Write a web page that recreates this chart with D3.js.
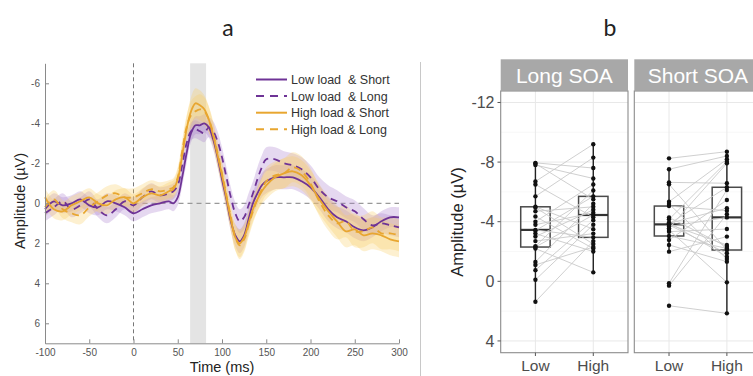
<!DOCTYPE html>
<html><head><meta charset="utf-8">
<script src="https://cdn.jsdelivr.net/npm/d3@7"></script>
<style>
body{margin:0;background:#fff}
svg{display:block}
text{font-family:"Liberation Sans",Arial,sans-serif}
</style>
</head><body>
<svg id="c" width="753" height="376"></svg>
<script>
// ---------- Panel a data ----------
const times = [-100,-90,-80,-70,-60,-50,-40,-30,-20,-10,0,10,20,30,40,
  45,50,55,60,65,70,75,80,85,90,95,100,105,110,115,120,125,130,135,140,145,150,
  160,170,180,190,200,210,220,230,240,250,260,270,280,290,300];
const lowShort = [0.3,-0.1,0.1,0.0,-0.2,0.1,0.2,-0.1,0.0,0.2,0.5,0.3,0.1,0.0,-0.1,
  0.0,-0.3,-1.3,-2.5,-3.5,-3.9,-3.9,-4.0,-3.8,-3.2,-2.3,-1.2,-0.2,0.9,1.6,1.9,1.6,0.8,0.0,-0.5,-0.9,-1.1,
  -1.3,-1.3,-1.3,-1.1,-0.8,-0.3,0.3,0.7,0.9,1.2,1.35,1.2,0.9,0.7,0.7];
const lowLong = [0.5,0.2,-0.1,0.3,0.1,-0.2,0.3,0.6,0.3,-0.1,0.1,-0.3,-0.6,-0.4,-0.5,
  -0.6,-0.9,-1.9,-3.0,-3.6,-3.7,-3.6,-3.5,-3.8,-3.6,-3.1,-2.3,-1.3,-0.3,0.5,0.9,0.7,0.1,-0.5,-1.2,-1.8,-2.2,
  -2.2,-2.0,-1.9,-1.7,-1.3,-0.7,-0.3,-0.1,0.2,0.4,0.8,1.1,1.0,1.1,1.2];
const highShort = [-0.3,0.3,0.4,0.1,-0.1,-0.3,0.0,0.1,-0.2,-0.3,0.0,-0.3,-0.5,-0.4,-0.6,
  -0.7,-1.2,-2.4,-3.7,-4.6,-5.0,-4.9,-4.7,-4.2,-3.4,-2.4,-1.4,-0.3,0.8,1.7,2.0,1.7,1.0,0.3,-0.2,-0.6,-0.9,
  -1.3,-1.5,-1.6,-1.4,-0.9,-0.2,0.4,0.9,1.4,1.3,1.6,1.5,1.6,1.8,1.9];
const highLong = [0.2,-0.2,0.3,0.5,0.6,0.2,-0.1,-0.4,-0.5,-0.3,-0.3,-0.5,-0.7,-0.6,-0.7,
  -0.8,-1.3,-2.6,-3.8,-4.4,-4.6,-4.7,-4.6,-4.2,-3.5,-2.5,-1.5,-0.4,0.7,1.7,2.1,1.8,1.1,0.4,-0.2,-0.7,-1.1,
  -1.4,-1.5,-1.8,-1.6,-1.0,-0.1,0.6,1.0,0.9,1.4,1.4,1.2,1.5,1.5,1.6];
const seLow = [0.4,0.4,0.4,0.4,0.4,0.4,0.4,0.4,0.4,0.4,0.4,0.4,0.4,0.4,0.4,
  0.4,0.4,0.45,0.5,0.45,0.45,0.45,0.45,0.5,0.5,0.5,0.5,0.5,0.5,0.55,0.6,0.6,0.6,0.6,0.6,0.6,0.6,
  0.6,0.6,0.6,0.6,0.6,0.6,0.6,0.55,0.55,0.55,0.55,0.5,0.5,0.5,0.5];
const seHigh = [0.45,0.45,0.45,0.45,0.45,0.45,0.45,0.45,0.45,0.45,0.45,0.45,0.45,0.45,0.45,
  0.45,0.5,0.55,0.6,0.7,0.75,0.75,0.7,0.65,0.6,0.6,0.6,0.6,0.6,0.65,0.7,0.65,0.6,0.6,0.6,0.65,0.7,
  0.7,0.75,0.75,0.75,0.75,0.75,0.75,0.8,0.8,0.8,0.8,0.8,0.8,0.8,0.8];
const legendLabels = ["Low load  & Short","Low load  & Long","High load & Short","High load & Long"];
const xTicksA = [-100,-50,0,50,100,150,200,250,300];
const yTicksA = [-6,-4,-2,0,2,4,6];
const shadeWindow = [64, 82];

// ---------- Panel b data ----------
const facets = ["Long SOA","Short SOA"];
const loads = ["Low","High"];
const longLow   = [-7.95,-7.9,-7.8,-6.7,-6.5,-5.7,-5.0,-4.95,-4.7,-4.35,-4.0,-3.8,-3.45,-3.4,-3.2,-3.0,-2.7,-2.35,-2.3,-2.2,-1.3,-1.1,-0.75,-0.1,1.37];
const longHigh  = [-7.6,-5.5,-6.9,-9.2,-4.3,-8.3,-3.5,-2.5,-5.0,-2.2,-6.5,-4.6,-2.95,-5.7,-2.0,-4.8,-3.2,-6.1,-4.45,-0.6,-5.2,-2.3,-4.1,-3.8,-2.7];
const shortLow  = [-8.25,-7.52,-6.64,-6.51,-5.34,-5.19,-5.05,-4.29,-4.16,-3.95,-3.89,-3.85,-3.82,-3.78,-3.67,-3.56,-3.44,-3.33,-3.04,-2.77,-2.44,-1.99,0.13,0.29,1.64];
const shortHigh = [-8.7,-8.41,-6.58,-2.1,-8.19,-1.5,-4.74,-2.32,-8.03,-1.65,-4.9,-6.31,-2.44,-1.88,-4.29,-7.92,0.07,-3.51,-2.21,-5.46,-1.32,-3.0,-6.13,-4.5,2.15];
const yTicksB = [-12,-8,-4,0,4];
const yMinorB = [-10,-6,-2,2];

// ---------- drawing ----------
const svg = d3.select("#c");
svg.append("rect").attr("width",753).attr("height",376).attr("fill","#fff");

const purple = "#6e3396", gold = "#e8a630";
const xA = d3.scaleLinear().domain([-100,300]).range([45,399]);
const yA = d3.scaleLinear().domain([-7,7]).range([63.3,343.3]);
const gA = svg.append("g");

gA.append("rect").attr("x",xA(shadeWindow[0])).attr("y",yA(-7))
  .attr("width",xA(shadeWindow[1])-xA(shadeWindow[0])).attr("height",yA(7)-yA(-7))
  .attr("fill","#e4e4e4");
gA.append("line").attr("x1",xA(0)).attr("x2",xA(0)).attr("y1",yA(-7)).attr("y2",yA(7))
  .attr("stroke","#777").attr("stroke-width",1).attr("stroke-dasharray","4,3");
gA.append("line").attr("x1",xA(0)).attr("x2",xA(300)).attr("y1",yA(0)).attr("y2",yA(0))
  .attr("stroke","#999").attr("stroke-width",1.2).attr("stroke-dasharray","5,4");

const series = [
  {vals: lowShort, se: seLow, color: purple, fill:"rgba(170,125,205,0.30)", dash:null},
  {vals: lowLong, se: seLow, color: purple, fill:"rgba(170,125,205,0.30)", dash:"7,5"},
  {vals: highShort, se: seHigh, color: gold, fill:"rgba(250,205,100,0.30)", dash:null},
  {vals: highLong, se: seHigh, color: gold, fill:"rgba(250,205,100,0.30)", dash:"7,5"}
];
const curve = d3.curveCatmullRom.alpha(0.5);
const area = s => d3.area().curve(curve)
  .x((d,i)=>xA(times[i])).y0((d,i)=>yA(d - s.se[i])).y1((d,i)=>yA(d + s.se[i]))(s.vals);
const line = s => d3.line().curve(curve).x((d,i)=>xA(times[i])).y(d=>yA(d))(s.vals);
series.forEach(s => gA.append("path").attr("d", area(s)).attr("fill", s.fill));
series.forEach(s => gA.append("path").attr("d", line(s)).attr("fill","none")
  .attr("stroke", s.color).attr("stroke-width",1.8).attr("stroke-dasharray", s.dash));

// axes a
const styleAxis = (g, fs, col) => {
  g.selectAll(".domain").attr("stroke","#8a8a8a");
  g.selectAll(".tick line").attr("stroke","#8a8a8a");
  g.selectAll("text").attr("font-size",fs).attr("fill",col).attr("font-family","'Liberation Sans',Arial,sans-serif");
};
const axL = gA.append("g").attr("transform","translate(45,0)")
  .call(d3.axisLeft(yA).tickValues(yTicksA).tickFormat(d=>String(d)).tickSizeInner(-4).tickSizeOuter(0).tickPadding(5));
styleAxis(axL, 10, "#555");
const axB = gA.append("g").attr("transform",`translate(0,${yA(7)})`)
  .call(d3.axisBottom(xA).tickValues(xTicksA).tickFormat(d=>String(d)).tickSizeInner(-4).tickSizeOuter(0).tickPadding(6));
styleAxis(axB, 10, "#555");

// legend
legendLabels.forEach((lab,i) => {
  const s = series[i], y = 79.5 + i*16.6;
  gA.append("line").attr("x1",256).attr("x2",287).attr("y1",y).attr("y2",y)
    .attr("stroke",s.color).attr("stroke-width",2).attr("stroke-dasharray", s.dash ? "8,6" : null);
  gA.append("text").attr("x",291).attr("y",y+4.5).attr("font-size",12.5).attr("fill","#333")
    .style("white-space","pre").text(lab);
});

gA.append("text").attr("x",222).attr("y",372).attr("text-anchor","middle").attr("font-size",14.5).attr("fill","#222").text("Time (ms)");
gA.append("text").attr("transform","translate(25,201) rotate(-90)").attr("text-anchor","middle").attr("font-size",14.5).attr("fill","#222").text("Amplitude (µV)");
svg.append("text").attr("x",228).attr("y",36).attr("text-anchor","middle").attr("font-size",23).attr("fill","#222").style("font-family","Lato, 'Open Sans', sans-serif").text("a");
svg.append("text").attr("x",610).attr("y",36).attr("text-anchor","middle").attr("font-size",23).attr("fill","#222").style("font-family","Lato, 'Open Sans', sans-serif").text("b");

// separator
svg.append("line").attr("x1",420.5).attr("x2",420.5).attr("y1",62).attr("y2",376).attr("stroke","#c8c8c8").attr("stroke-width",1);

// ---------- Panel b ----------
const yB = d3.scaleLinear().domain([-12.77,4.79]).range([91,352.7]);
const panelW = 127.3;
const panelLefts = [500.7, 634.3];
const facetData = [[longLow,longHigh],[shortLow,shortHigh]];

facets.forEach((f, fi) => {
  const L = panelLefts[fi];
  const xB = d3.scalePoint().domain(loads).range([L, L+panelW]).padding(0.6);
  const g = svg.append("g");
  // strip
  g.append("rect").attr("x",L).attr("y",59.3).attr("width",panelW).attr("height",31.4).attr("fill","#a8a8a8");
  g.append("text").attr("x",L+panelW/2).attr("y",83).attr("text-anchor","middle").attr("font-size",21).attr("fill","#fff").text(f);
  // grid
  yMinorB.forEach(v => g.append("line").attr("x1",L).attr("x2",L+panelW).attr("y1",yB(v)).attr("y2",yB(v)).attr("stroke","#f3f3f3").attr("stroke-width",0.6));
  yTicksB.forEach(v => g.append("line").attr("x1",L).attr("x2",L+panelW).attr("y1",yB(v)).attr("y2",yB(v)).attr("stroke","#e8e8e8").attr("stroke-width",1));
  loads.forEach(c => g.append("line").attr("x1",xB(c)).attr("x2",xB(c)).attr("y1",91).attr("y2",352.7).attr("stroke","#e8e8e8").attr("stroke-width",1));
  // boxes
  const [lo, hi] = facetData[fi];
  [lo, hi].forEach((arr, ci) => {
    const cx = xB(loads[ci]);
    const s = arr.slice().sort(d3.ascending);
    const q1 = d3.quantile(s, 0.25), med = d3.quantile(s, 0.5), q3 = d3.quantile(s, 0.75);
    const iqr = q3 - q1;
    const wLo = d3.min(s.filter(v => v >= q1 - 1.5*iqr));
    const wHi = d3.max(s.filter(v => v <= q3 + 1.5*iqr));
    g.append("line").attr("x1",cx).attr("x2",cx).attr("y1",yB(wLo)).attr("y2",yB(q1)).attr("stroke","#222").attr("stroke-width",1.4);
    g.append("line").attr("x1",cx).attr("x2",cx).attr("y1",yB(q3)).attr("y2",yB(wHi)).attr("stroke","#222").attr("stroke-width",1.4);
    g.append("rect").attr("x",cx-14.7).attr("width",29.4).attr("y",yB(q1)).attr("height",yB(q3)-yB(q1))
      .attr("fill","none").attr("stroke","#4a4a4a").attr("stroke-width",1.5);
    g.append("line").attr("x1",cx-14.7).attr("x2",cx+14.7).attr("y1",yB(med)).attr("y2",yB(med)).attr("stroke","#333").attr("stroke-width",2.2);
  });
  // pair lines
  lo.forEach((v,i) => g.append("line").attr("x1",xB("Low")).attr("x2",xB("High"))
    .attr("y1",yB(v)).attr("y2",yB(hi[i])).attr("stroke","#c9c9c9").attr("stroke-width",0.9));
  // points
  [lo, hi].forEach((arr, ci) => arr.forEach(v => g.append("circle").attr("cx",xB(loads[ci])).attr("cy",yB(v)).attr("r",2.2).attr("fill","#111")));
  // border
  g.append("rect").attr("x",L).attr("y",91).attr("width",panelW).attr("height",352.7-91).attr("fill","none").attr("stroke","#8c8c8c").attr("stroke-width",1.1);
  // x labels
  loads.forEach(c => {
    g.append("line").attr("x1",xB(c)).attr("x2",xB(c)).attr("y1",352.7).attr("y2",356).attr("stroke","#555");
    g.append("text").attr("x",xB(c)).attr("y",370.5).attr("text-anchor","middle").attr("font-size",15.5).attr("fill","#4d4d4d").text(c);
  });
});
// y axis b
const gy = svg.append("g");
yTicksB.forEach(v => {
  gy.append("line").attr("x1",497.5).attr("x2",500.7).attr("y1",yB(v)).attr("y2",yB(v)).attr("stroke","#555");
  gy.append("text").attr("x",494.5).attr("y",yB(v)).attr("dy","0.36em").attr("text-anchor","end").attr("font-size",16).attr("fill","#4d4d4d").text(String(v));
});
gy.append("text").attr("transform","translate(463,222) rotate(-90)").attr("text-anchor","middle").attr("font-size",16.5).attr("fill","#222").text("Amplitude (µV)");
</script>
</body></html>
